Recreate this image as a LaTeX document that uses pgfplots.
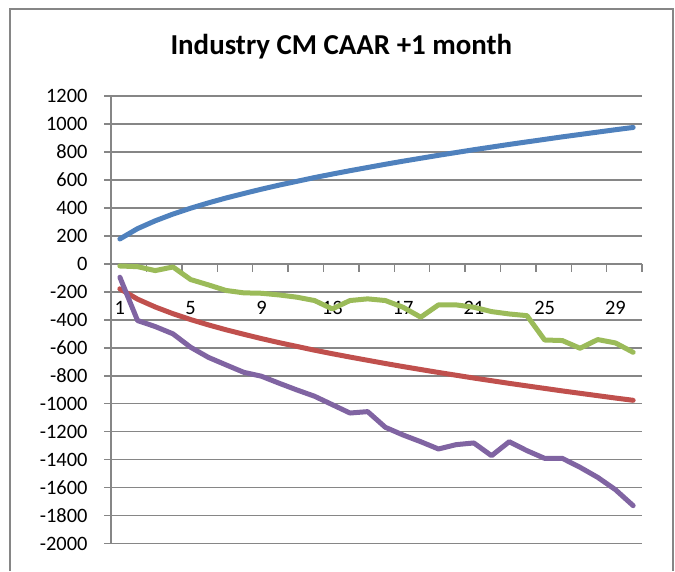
\documentclass[border=0pt]{standalone}
\usepackage{fontspec}
\setmainfont{Carlito}
\usepackage{pgfplots}
\pgfplotsset{compat=1.18}
\definecolor{xlblue}{HTML}{4F81BD}
\definecolor{xlred}{HTML}{C0504D}
\definecolor{xlgreen}{HTML}{9BBB59}
\definecolor{xlpurple}{HTML}{8064A2}
\definecolor{xlgrid}{HTML}{868686}

% tick labels drawn over the series, as in the spreadsheet
\pgfplotsset{
  layers/labelsontop/.define layer set={
    axis background,axis grid,axis ticks,axis lines,main,
    axis tick labels,axis descriptions,axis foreground}{},
}

\pgfplotstableread{
m blue red green purple
1 178 -178 -15 -95
2 252 -252 -20 -405
3 308 -308 -48 -448
4 356 -356 -22 -500
5 398 -398 -112 -596
6 436 -436 -150 -668
7 471 -471 -190 -722
8 503 -503 -207 -775
9 534 -534 -210 -803
10 563 -563 -222 -853
11 590 -590 -238 -901
12 617 -617 -262 -946
13 642 -642 -322 -1006
14 666 -666 -262 -1066
15 689 -689 -250 -1056
16 712 -712 -262 -1168
17 734 -734 -310 -1223
18 755 -755 -381 -1271
19 776 -776 -293 -1323
20 796 -796 -293 -1292
21 816 -816 -310 -1280
22 835 -835 -341 -1371
23 854 -854 -358 -1271
24 872 -872 -370 -1335
25 890 -890 -544 -1390
26 908 -908 -548 -1390
27 925 -925 -603 -1454
28 942 -942 -541 -1526
29 959 -959 -565 -1614
30 975 -975 -632 -1728
}\caardata

\begin{document}
\begin{tikzpicture}
\path (0,0) rectangle (675bp,571bp);
\draw[xlgrid, line width=1.4bp] (10bp,0bp) -- (10bp,562bp) -- (673bp,562bp) -- (673bp,0bp);
\node[font=\bfseries\fontsize{29}{32}\selectfont] at (341.3bp,571bp-47bp) {Industry CM CAAR +1 month};
\begin{axis}[
  set layers=labelsontop,
  at={(111bp,27.3bp)}, anchor=south west,
  scale only axis,
  width=531bp, height=447.7bp,
  xmin=0.5, xmax=30.5,
  ymin=-2000, ymax=1200,
  axis y line=left,
  axis x line=middle,
  axis line style={-, draw=xlgrid, line width=1.4bp},
  xtick={1,5,...,29},
  minor xtick={0.5,2.5,...,30.5},
  major x tick style={draw=none},
  minor x tick style={draw=xlgrid, line width=1.4bp},
  minor tick length=8bp,
  ytick={-2000,-1800,...,1200},
  major tick length=7bp,
  major y tick style={draw=xlgrid, line width=1.4bp},
  tick align=outside,
  ymajorgrids,
  grid style={draw=xlgrid, line width=1.4bp},
  tick label style={font=\fontsize{20.5}{23}\selectfont},
  /pgf/number format/assume math mode=true,
  /pgf/number format/1000 sep={},
  yticklabel style={xshift=-13bp},
  xticklabel style={yshift=-27bp},
  every axis plot/.append style={line width=5bp, line join=round, line cap=round, mark=none},
]
\addplot[xlblue] table[x=m,y=blue] {\caardata};
\addplot[xlred] table[x=m,y=red] {\caardata};
\addplot[xlgreen] table[x=m,y=green] {\caardata};
\addplot[xlpurple] table[x=m,y=purple] {\caardata};
\end{axis}
\end{tikzpicture}
\end{document}
